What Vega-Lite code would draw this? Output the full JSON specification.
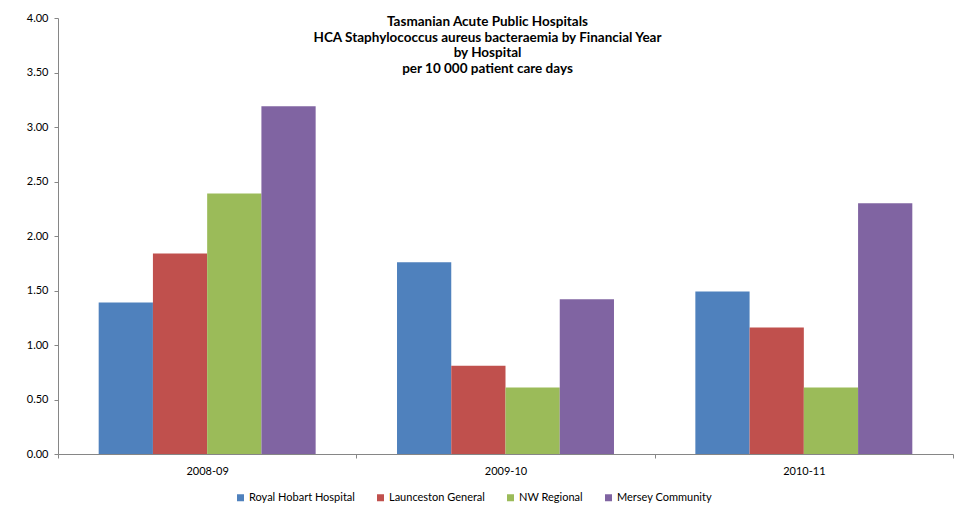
{
  "$schema": "https://vega.github.io/schema/vega-lite/v6.json",
  "autosize": {"type": "none"},
  "padding": {"left": 58, "top": 18, "right": 2, "bottom": 57},
  "width": 895,
  "height": 436,
  "background": "white",
  "config": {"view": {"stroke": null}, "font": "Lato"},
  "title": {
    "text": ["Tasmanian Acute Public Hospitals", "HCA Staphylococcus aureus bacteraemia by Financial Year", "by Hospital", "per 10 000 patient care days"],
    "anchor": "middle",
    "frame": "group",
    "baseline": "top",
    "offset": -63,
    "dx": -18,
    "fontSize": 13.5,
    "fontWeight": "bold",
    "font": "Lato",
    "color": "#000000",
    "lineHeight": 15.5
  },
  "data": {
    "values": [
      {"year": "2008-09", "hospital": "Royal Hobart Hospital", "rate": 1.39},
      {"year": "2008-09", "hospital": "Launceston General", "rate": 1.84},
      {"year": "2008-09", "hospital": "NW Regional", "rate": 2.39},
      {"year": "2008-09", "hospital": "Mersey Community", "rate": 3.19},
      {"year": "2009-10", "hospital": "Royal Hobart Hospital", "rate": 1.76},
      {"year": "2009-10", "hospital": "Launceston General", "rate": 0.81},
      {"year": "2009-10", "hospital": "NW Regional", "rate": 0.61},
      {"year": "2009-10", "hospital": "Mersey Community", "rate": 1.42},
      {"year": "2010-11", "hospital": "Royal Hobart Hospital", "rate": 1.49},
      {"year": "2010-11", "hospital": "Launceston General", "rate": 1.16},
      {"year": "2010-11", "hospital": "NW Regional", "rate": 0.61},
      {"year": "2010-11", "hospital": "Mersey Community", "rate": 2.30}
    ]
  },
  "mark": {"type": "bar"},
  "encoding": {
    "x": {
      "field": "year",
      "type": "nominal",
      "scale": {"paddingInner": 0, "paddingOuter": 0},
      "axis": {
        "title": null,
        "labelAngle": 0,
        "tickBand": "extent",
        "domainColor": "#868686",
        "tickColor": "#868686",
        "tickSize": 4,
        "labelFontSize": 11,
        "labelColor": "#000000",
        "labelPadding": 7,
        "labelFont": "Lato"
      }
    },
    "xOffset": {
      "field": "hospital",
      "type": "nominal",
      "sort": ["Royal Hobart Hospital", "Launceston General", "NW Regional", "Mersey Community"],
      "scale": {"paddingInner": 0, "paddingOuter": 0.75}
    },
    "y": {
      "field": "rate",
      "type": "quantitative",
      "scale": {"domain": [0, 4], "nice": false},
      "axis": {
        "title": null,
        "values": [0, 0.5, 1, 1.5, 2, 2.5, 3, 3.5, 4],
        "format": ".2f",
        "grid": false,
        "domainColor": "#868686",
        "tickColor": "#868686",
        "tickSize": 4,
        "labelFontSize": 11,
        "labelColor": "#000000",
        "labelPadding": 6,
        "labelFont": "Lato"
      }
    },
    "color": {
      "field": "hospital",
      "type": "nominal",
      "scale": {
        "domain": ["Royal Hobart Hospital", "Launceston General", "NW Regional", "Mersey Community"],
        "range": ["#4F81BD", "#C0504D", "#9BBB59", "#8064A2"]
      },
      "legend": {
        "title": null,
        "orient": "none",
        "direction": "horizontal",
        "legendX": 177,
        "legendY": 474,
        "symbolType": "square",
        "symbolSize": 49,
        "symbolStrokeWidth": 0,
        "labelFontSize": 11,
        "labelFont": "Lato",
        "labelColor": "#000000",
        "columnPadding": 20,
        "labelOffset": 3
      }
    }
  }
}
